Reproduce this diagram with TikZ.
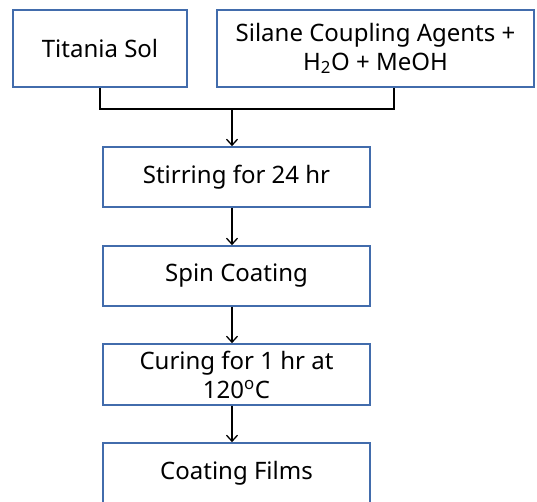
\documentclass[tikz,border=0pt]{standalone}
\usepackage{fontspec}
\setmainfont{Noto Sans}
\usetikzlibrary{positioning, arrows.meta, calc}
\definecolor{boxblue}{RGB}{66,108,172}

\begin{document}
\begin{tikzpicture}[
        x=1pt, y=-1pt,
        stage/.style={draw=boxblue, line width=1.7pt, fill=white, rectangle, align=center, inner sep=0pt, font=\fontsize{24}{29}\selectfont},
        link/.style={line width=1.3pt, draw=black},
        arrow/.style={link, -{Straight Barb[length=6pt, width=11pt]}}
    ]

    \useasboundingbox (0,0) rectangle (537,501);
    \clip (0,0) rectangle (537,501);

    % Inputs
    \node[stage, minimum width=174pt, minimum height=77pt] (titania) at (100,48.5) {Titania Sol};
    \node[stage, minimum width=317pt, minimum height=77pt] (silane) at (375.5,48.5) {Silane Coupling Agents +\\H\textsubscript{2}O + MeOH};

    % Process steps
    \node[stage, minimum width=267pt, minimum height=60pt] (stirring) at (236.5,177) {Stirring for 24 hr};
    \node[stage, minimum width=267pt, minimum height=60pt] (spin)     at (236.5,276) {Spin Coating};
    \node[stage, minimum width=267pt, minimum height=61pt] (curing)   at (236.5,374.5) {Curing for 1 hr at\\120\textsuperscript{o}C};
    \node[stage, minimum width=267pt, minimum height=60pt] (coating)  at (236.5,473) {Coating Films};

    % Merge of the two inputs
    \coordinate (silane out) at ([xshift=18.5pt]silane.south);
    \coordinate (merge) at (232,108);
    \draw[link] (titania.south) -- ++(0,21) -| (silane out);

    % Arrows between steps
    \draw[arrow] (merge) -- (merge |- stirring.north);
    \draw[arrow] (stirring.south -| merge) -- (spin.north -| merge);
    \draw[arrow] (spin.south -| merge) -- (curing.north -| merge);
    \draw[arrow] (curing.south -| merge) -- (coating.north -| merge);

\end{tikzpicture}
\end{document}
